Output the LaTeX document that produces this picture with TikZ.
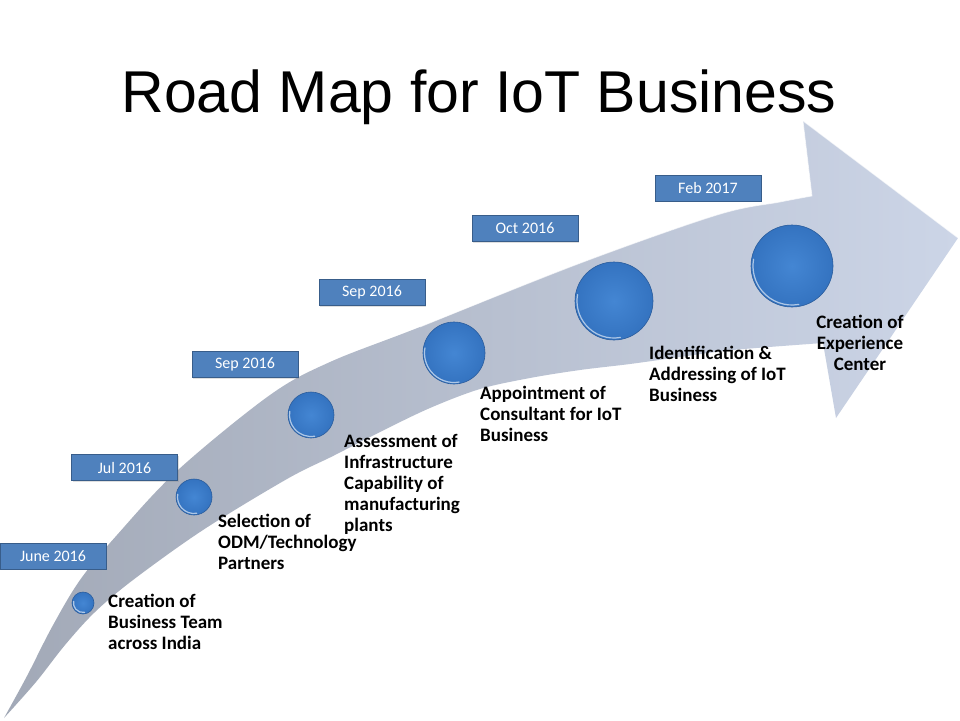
\documentclass[tikz,border=0pt]{standalone}
\usepackage{fontspec}
\setmainfont{Carlito}
\newfontfamily\titlefont{Liberation Sans}
\usetikzlibrary{shadows,calc}
\definecolor{boxfill}{HTML}{4F81BD}
\definecolor{boxrim}{HTML}{385D8A}
\definecolor{arrowL}{HTML}{A2A9B7}
\definecolor{arrowR}{HTML}{CCD5E7}
\definecolor{ballin}{HTML}{4486D3}
\definecolor{ballout}{HTML}{3473C0}
\definecolor{ballrim}{HTML}{2A5C9C}
\tikzset{
  datebox/.style={draw=boxrim, fill=boxfill, line width=0.8pt, text=white,
    minimum width=106pt, minimum height=26pt, inner sep=0pt,
    font=\fontsize{16}{18}\selectfont,
    drop shadow={opacity=0.25, shadow xshift=1pt, shadow yshift=-1pt}},
  ballnode/.style={circle, draw=ballrim, line width=0.6pt, inner sep=0pt,
    inner color=ballin, outer color=ballout},
  hilite/.style={white, opacity=0.6, line width=1.2pt, line cap=round},
  lbl/.style={inner sep=0pt, align=left, font=\bfseries\fontsize{19}{21}\selectfont}
}
\begin{document}
\begin{tikzpicture}[x=1pt,y=-1pt]
\useasboundingbox (0,0) rectangle (960,720);
\fill[white] (0,0) rectangle (960,720);

% curved arrow
\shade[left color=arrowL, right color=arrowR]
  plot[smooth, tension=0.55] coordinates {(4,718) (27,676) (52,627) (80,580) (117,535) (178,470) (270,395) (330,362) (420,327) (578,264) (717,215) (780,202) (812,196)}
  -- (803,121) -- (958,238) -- (836,418) -- (823,343)
  -- plot[smooth, tension=0.55] coordinates {(823,343) (733,350) (680,357) (630,364) (580,370) (530,378) (480,389) (430,408) (380,432) (333,456) (287,479) (203,530) (133,580) (95,612) (65,645) (36,682) (4,718)}
  -- cycle;
\draw[white, opacity=0.6, line width=0.8pt]
  plot[smooth, tension=0.55] coordinates {(420,327) (578,264) (717,215) (780,202) (812,196)}
  -- (803,121) -- (958,238);

% title
\node[font=\titlefont\fontsize{59}{61}\selectfont, anchor=base, inner sep=0pt] (title) at (479,112) {Road Map for IoT Business};

% date boxes
\node[datebox] (d1) at (53,556) {June 2016};
\node[datebox] (d2) at (124.5,467.5) {Jul 2016};
\node[datebox] (d3) at (245,364.5) {Sep 2016};
\node[datebox] (d4) at (372,292.5) {Sep 2016};
\node[datebox] (d5) at (525,228.5) {Oct 2016};
\node[datebox] (d6) at (708,188) {Feb 2017};

% balls
\node[ballnode, minimum size=22pt] (b1) at (83,603) {};
\node[ballnode, minimum size=36pt] (b2) at (194,497) {};
\node[ballnode, minimum size=46pt] (b3) at (311,415) {};
\node[ballnode, minimum size=62pt] (b4) at (454,353) {};
\node[ballnode, minimum size=78pt] (b5) at (614,301) {};
\node[ballnode, minimum size=82pt] (b6) at (792,266) {};
\draw[hilite] ($(b1)+(80:9.5)$) arc[start angle=80, end angle=190, radius=9.5];
\draw[hilite] ($(b2)+(80:16.5)$) arc[start angle=80, end angle=190, radius=16.5];
\draw[hilite] ($(b3)+(80:21.5)$) arc[start angle=80, end angle=190, radius=21.5];
\draw[hilite] ($(b4)+(80:29.5)$) arc[start angle=80, end angle=190, radius=29.5];
\draw[hilite] ($(b5)+(80:37)$) arc[start angle=80, end angle=190, radius=37];
\draw[hilite] ($(b6)+(80:39)$) arc[start angle=80, end angle=190, radius=39];

% labels
\node[lbl, anchor=north west] (l1) at (108,594) {Creation of\\Business Team\\across India};
\node[lbl, anchor=north west] (l2) at (218,514) {Selection of\\ODM/Technology\\Partners};
\node[lbl, anchor=north west] (l3) at (344,434) {Assessment of\\Infrastructure\\Capability of\\manufacturing\\plants};
\node[lbl, anchor=north west] (l4) at (480,386) {Appointment of\\Consultant for IoT\\Business};
\node[lbl, anchor=north west] (l5) at (649,346) {Identification \&\\Addressing of IoT\\Business};
\node[lbl, anchor=north, align=center] (l6) at (860,315) {Creation of\\Experience\\Center};
\end{tikzpicture}
\end{document}
